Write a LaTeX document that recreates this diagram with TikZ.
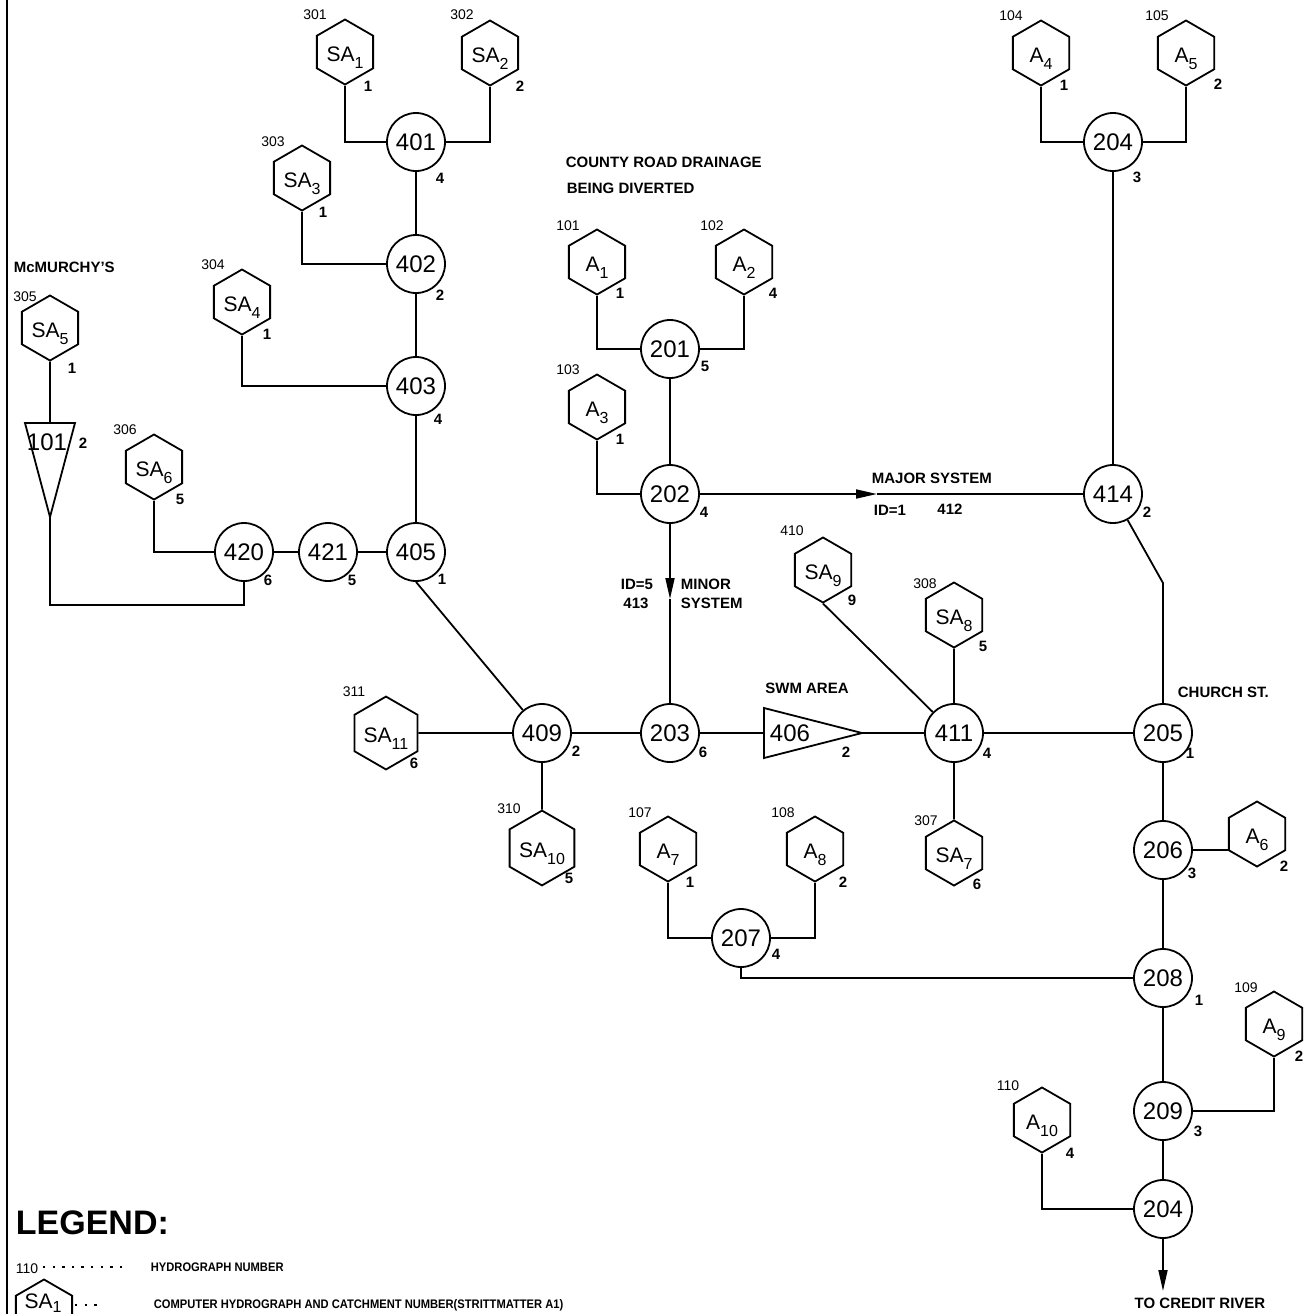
\documentclass[tikz,border=0pt]{standalone}
\usepackage{fontspec}
\setmainfont{Liberation Sans}
\usetikzlibrary{shapes.geometric,arrows.meta}

\newcommand{\catno}[1]{\raisebox{-0.6ex}[0pt][0pt]{\fontsize{8}{8}\selectfont #1}}

\begin{document}
\begin{tikzpicture}[x=0.5pt,y=-0.5pt,line width=0.9pt]
        \tikzset{
          junc/.style={draw, circle, minimum size=29pt, inner sep=0pt, font=\fontsize{12}{12}\selectfont},
          catch/.style={draw, regular polygon, regular polygon sides=6, shape border rotate=30,
            minimum size=32.5pt, inner sep=0pt, text height=9.5pt, text depth=0pt,
            font=\fontsize{10.5}{10.5}\selectfont},
          hyd/.style={inner sep=0pt, font=\fontsize{7}{7}\selectfont},
          outno/.style={inner sep=0pt, font=\fontsize{7.5}{7.5}\selectfont\bfseries},
          note/.style={inner sep=0pt, anchor=west, font=\fontsize{7.5}{7.5}\selectfont\bfseries},
          lgtext/.style={inner sep=0pt, anchor=west, font=\fontsize{6.2}{6.2}\selectfont\bfseries},
          flow/.style={-{Triangle[length=10.5pt,width=4.5pt]}},
          leader/.style={line width=1.2pt, dash pattern=on 1.2pt off 3.6pt}
        }
        \useasboundingbox (0,0) rectangle (1307,1314);
        \clip (0,0) rectangle (1307,1314);
        \draw (7,0) -- (7,1314);

        % catchments
        \node [catch] (sa1) at (345,52) {SA\catno{1}};
        \node [hyd] (h301) at (315,15) {301};
        \node [outno] (o301) at (368,86) {1};
        \node [catch] (sa2) at (490,53) {SA\catno{2}};
        \node [hyd] (h302) at (462,15) {302};
        \node [outno] (o302) at (520,86) {2};
        \node [catch] (sa3) at (302,178) {SA\catno{3}};
        \node [hyd] (h303) at (273,142) {303};
        \node [outno] (o303) at (323,212) {1};
        \node [catch] (sa4) at (242,302) {SA\catno{4}};
        \node [hyd] (h304) at (213,265) {304};
        \node [outno] (o304) at (267,334) {1};
        \node [catch] (sa5) at (50,328) {SA\catno{5}};
        \node [hyd] (h305) at (25,297) {305};
        \node [outno] (o305) at (72,368) {1};
        \node [catch] (sa6) at (154,467) {SA\catno{6}};
        \node [hyd] (h306) at (125,430) {306};
        \node [outno] (o306) at (180,499) {5};
        \node [catch] (a1) at (597,262) {A\catno{1}};
        \node [hyd] (h101) at (568,226) {101};
        \node [outno] (o101) at (620,293) {1};
        \node [catch] (a2) at (744,262) {A\catno{2}};
        \node [hyd] (h102) at (712,226) {102};
        \node [outno] (o102) at (773,293) {4};
        \node [catch] (a3) at (597,407) {A\catno{3}};
        \node [hyd] (h103) at (568,370) {103};
        \node [outno] (o103) at (620,439) {1};
        \node [catch] (a4) at (1041,53) {A\catno{4}};
        \node [hyd] (h104) at (1011,16) {104};
        \node [outno] (o104) at (1064,85) {1};
        \node [catch] (a5) at (1186,53) {A\catno{5}};
        \node [hyd] (h105) at (1157,16) {105};
        \node [outno] (o105) at (1218,84) {2};
        \node [catch] (sa9) at (823,570) {SA\catno{9}};
        \node [hyd] (h410) at (792,531) {410};
        \node [outno] (o410) at (852,600) {9};
        \node [catch] (sa8) at (954,615) {SA\catno{8}};
        \node [hyd] (h308) at (925,584) {308};
        \node [outno] (o308) at (983,646) {5};
        \node [catch] (sa7) at (954,853) {SA\catno{7}};
        \node [hyd] (h307) at (926,821) {307};
        \node [outno] (o307) at (977,884) {6};
        \node [catch] (sa11) at (386,733) {SA\catno{11}};
        \node [hyd] (h311) at (354,692) {311};
        \node [outno] (o311) at (414,763) {6};
        \node [catch] (sa10) at (542,848) {SA\catno{10}};
        \node [hyd] (h310) at (509,809) {310};
        \node [outno] (o310) at (569,878) {5};
        \node [catch] (a7) at (668,849) {A\catno{7}};
        \node [hyd] (h107) at (640,813) {107};
        \node [outno] (o107) at (690,882) {1};
        \node [catch] (a8) at (815,849) {A\catno{8}};
        \node [hyd] (h108) at (783,813) {108};
        \node [outno] (o108) at (843,882) {2};
        \node [catch] (a6) at (1257,834) {A\catno{6}};
        \node [outno] (o106) at (1284,866) {2};
        \node [catch] (a9) at (1274,1024) {A\catno{9}};
        \node [hyd] (h109) at (1246,988) {109};
        \node [outno] (o109) at (1299,1056) {2};
        \node [catch] (a10) at (1042,1120) {A\catno{10}};
        \node [hyd] (h110) at (1008,1086) {110};
        \node [outno] (o110) at (1070,1153) {4};

        % junctions
        \node [junc] (n401) at (416,142) {401};
        \node [outno] (o401) at (440,178) {4};
        \node [junc] (n402) at (416,264) {402};
        \node [outno] (o402) at (440,295) {2};
        \node [junc] (n403) at (416,386) {403};
        \node [outno] (o403) at (438,419) {4};
        \node [junc] (n405) at (416,552) {405};
        \node [outno] (o405) at (442,579) {1};
        \node [junc] (n421) at (328,552) {421};
        \node [outno] (o421) at (352,580) {5};
        \node [junc] (n420) at (244,552) {420};
        \node [outno] (o420) at (268,580) {6};
        \node [junc] (n201) at (670,349) {201};
        \node [outno] (o201) at (705,366) {5};
        \node [junc] (n202) at (670,494) {202};
        \node [outno] (o202) at (704,512) {4};
        \node [junc] (n203) at (670,733) {203};
        \node [outno] (o203) at (703,752) {6};
        \node [junc] (n409) at (542,733) {409};
        \node [outno] (o409) at (576,751) {2};
        \node [junc] (n411) at (954,733) {411};
        \node [outno] (o411) at (987,753) {4};
        \node [junc] (n205) at (1163,733) {205};
        \node [outno] (o205) at (1190,753) {1};
        \node [junc] (n206) at (1163,850) {206};
        \node [outno] (o206) at (1192,873) {3};
        \node [junc] (n207) at (741,938) {207};
        \node [outno] (o207) at (776,954) {4};
        \node [junc] (n208) at (1163,978) {208};
        \node [outno] (o208) at (1199,1000) {1};
        \node [junc] (n209) at (1163,1111) {209};
        \node [outno] (o209) at (1198,1131) {3};
        \node [junc] (n204b) at (1163,1209) {204};
        \node [junc] (n414) at (1113,494) {414};
        \node [outno] (o414) at (1147,512) {2};
        \node [junc] (n204a) at (1113,142) {204};
        \node [outno] (o204) at (1137,177) {3};

        % reservoirs
        \coordinate (top101) at (50,423);
        \coordinate (apex101) at (50,517);
        \draw (25,423) -- (75,423) -- (apex101) -- cycle;
        \node [junc, draw=none, minimum size=0pt] (r101) at (47,442) {101};
        \node [outno] (o501) at (83,443) {2};
        \coordinate (w406) at (764,733);
        \coordinate (e406) at (862,733);
        \draw (764,708) -- (e406) -- (764,758) -- cycle;
        \node [junc, draw=none, minimum size=0pt] (r406) at (790,733) {406};
        \node [outno] (o506) at (846,752) {2};

        % connections
        \draw (sa1) |- (n401);
        \draw (sa2) |- (n401);
        \draw (sa3) |- (n402);
        \draw (sa4) |- (n403);
        \draw (n401) -- (n402);
        \draw (n402) -- (n403);
        \draw (n403) -- (n405);
        \draw (sa5) -- (top101);
        \coordinate (j420) at (244,605);
        \draw (apex101) |- (j420) -- (n420);
        \draw (sa6) |- (n420);
        \draw (n420) -- (n421);
        \draw (n421) -- (n405);
        \draw (n405.south) -- (n409);
        \draw (sa11) -- (n409);
        \draw (n409) -- (sa10);
        \draw (n409) -- (n203);
        \draw (n203) -- (w406);
        \draw (e406) -- (n411);
        \draw (a1) |- (n201);
        \draw (a2) |- (n201);
        \draw (n201) -- (n202);
        \draw (a3) |- (n202);
        \coordinate (majtip) at (877,494);
        \draw [flow] (n202) -- (majtip);
        \draw (majtip) -- (n414);
        \coordinate (mintip) at (670,599);
        \draw [flow] (n202) -- (mintip);
        \draw (mintip) -- (n203);
        \draw (a4) |- (n204a);
        \draw (a5) |- (n204a);
        \draw (n204a) -- (n414);
        \coordinate (bend205) at (1163,583);
        \draw (n414) -- (bend205) -- (n205);
        \draw (sa9.-90) -- (n411);
        \draw (sa8) -- (n411);
        \draw (n411) -- (sa7);
        \draw (n411) -- (n205);
        \draw (n205) -- (n206);
        \draw (n206) -- (n206 -| a6.180);
        \draw (n206) -- (n208);
        \draw (a7) |- (n207);
        \draw (a8) |- (n207);
        \draw (n207) |- (n208);
        \draw (n208) -- (n209);
        \draw (n209) -| (a9);
        \draw (n209) -- (n204b);
        \draw (a10) |- (n204b);
        \coordinate (rivertip) at (1163,1291);
        \draw [flow] (n204b) -- (rivertip);

        % notes
        \node [note] (mcm) at (13,267) {McMURCHY'S};
        \node [note] (cty1) at (565,162) {COUNTY ROAD DRAINAGE};
        \node [note] (cty2) at (566,188) {BEING DIVERTED};
        \node [note] (major) at (871,478) {MAJOR SYSTEM};
        \node [note] (id1) at (873,510) {ID=1};
        \node [note, anchor=center] (h412) at (950,509) {412};
        \node [note, anchor=center] (id5) at (637,584) {ID=5};
        \node [note, anchor=center] (h413) at (636,603) {413};
        \node [note] (minor1) at (680,584) {MINOR};
        \node [note] (minor2) at (680,603) {SYSTEM};
        \node [note, anchor=center] (swm) at (807,688) {SWM AREA};
        \node [note] (church) at (1177,692) {CHURCH ST.};
        \node [note, anchor=center] (river) at (1200,1303) {TO CREDIT RIVER};

        % legend
        \node [inner sep=0pt, anchor=west, font=\fontsize{17}{17}\selectfont\bfseries] (legend) at (15,1223) {LEGEND:};
        \node [hyd, anchor=west] (lg110) at (15,1269) {110};
        \coordinate (d1a) at (43,1267);
        \coordinate (d1b) at (125,1267);
        \draw [leader] (d1a) -- (d1b);
        \node [lgtext] (lgt1) at (150,1267) {\scalebox{0.9}[1]{HYDROGRAPH NUMBER}};
        \node [catch] (lgsa) at (44,1312) {};
        \node [inner sep=0pt, font=\fontsize{10.5}{10.5}\selectfont] (lgsatxt) at (43,1303) {SA\raisebox{-0.3ex}{\fontsize{8}{8}\selectfont 1}};
        \coordinate (d2a) at (75,1305);
        \coordinate (d2b) at (102,1305);
        \draw [leader] (d2a) -- (d2b);
        \node [lgtext] (lgt2) at (153,1305) {\scalebox{0.9}[1]{COMPUTER HYDROGRAPH AND CATCHMENT NUMBER(STRITTMATTER A1)}};
\end{tikzpicture}
\end{document}
